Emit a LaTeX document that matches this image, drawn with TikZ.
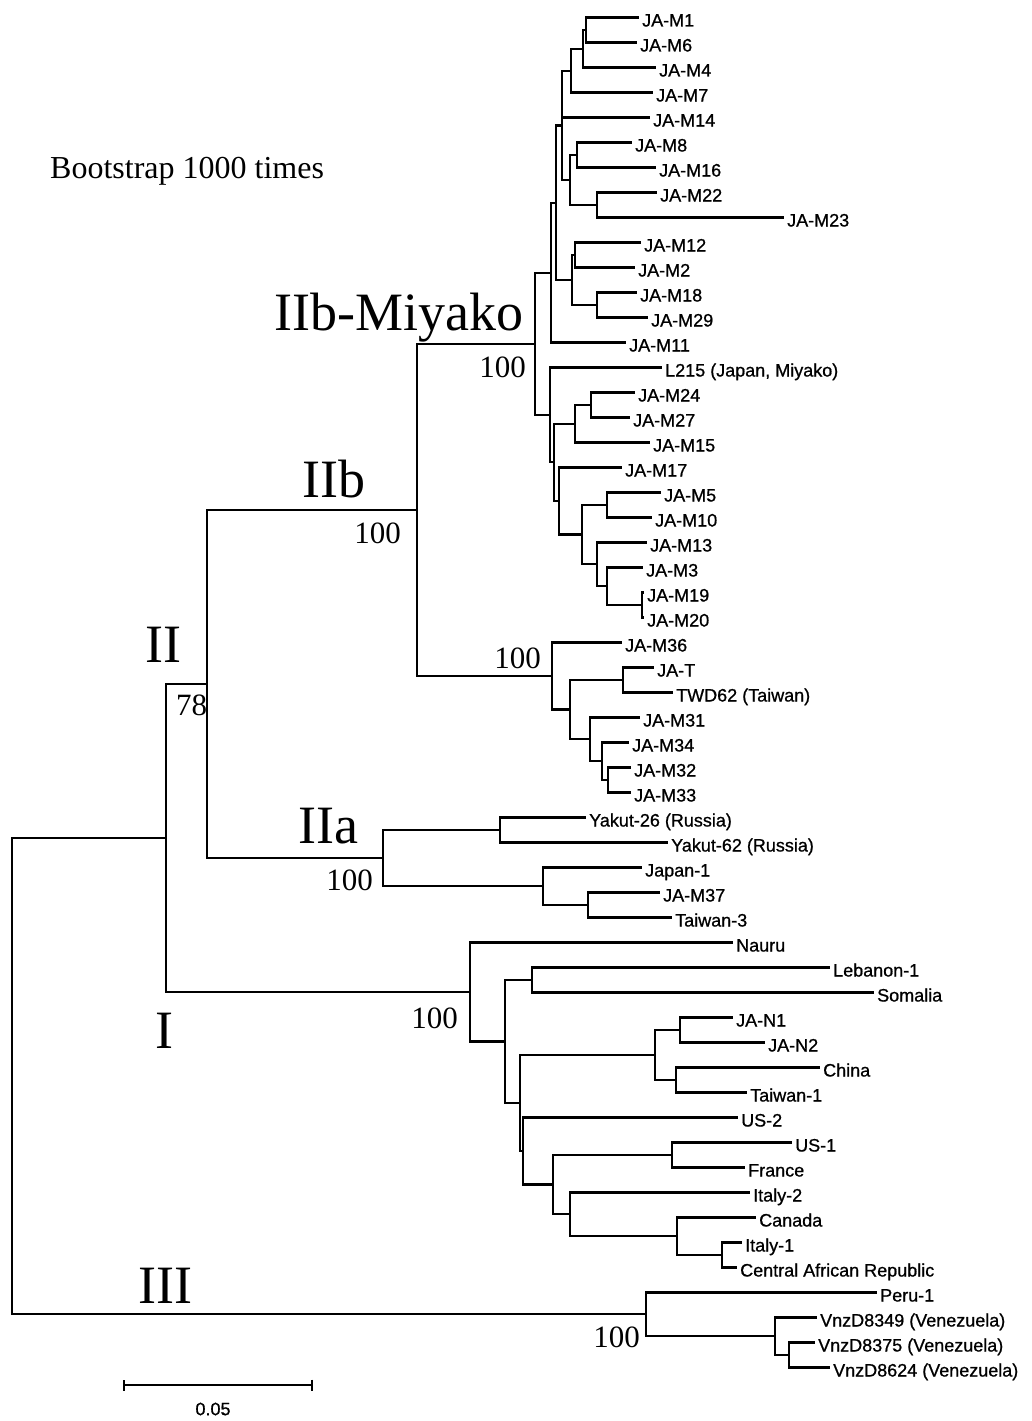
\documentclass[tikz,border=0pt]{standalone}
\usepackage{fontspec}
\setmainfont{Liberation Serif}
\newfontfamily\leafsans[FakeBold=0.8]{Liberation Sans}
\usetikzlibrary{arrows.meta}

\begin{document}
\begin{tikzpicture}[x=1pt, y=-1pt,
  branch/.style={line width=2.4pt},
  leaf/.style={anchor=west, inner xsep=3pt, inner ysep=0pt,
               text height=20pt, text depth=2pt,
               font=\leafsans\fontsize{18}{20}\selectfont},
  boot/.style={anchor=base east, inner sep=0pt, font=\fontsize{31}{34}\selectfont},
  clade/.style={anchor=base west, inner sep=0pt, font=\fontsize{54}{60}\selectfont}]

\fill[white] (0,0) rectangle (1031,1421);
\useasboundingbox (0,0) rectangle (1031,1421);

% Internal nodes of the tree
\coordinate (root) at (12,1076);
\coordinate (base) at (166,838);
\coordinate (cII)  at (207,684);
\coordinate (cIIb) at (417,510);
\coordinate (miy)  at (535,344);
\coordinate (up3)  at (551,273);
\coordinate (up2)  at (556,203);
\coordinate (up1)  at (562,125.5);
\coordinate (a1)   at (571,71);
\coordinate (a2)   at (583,49);
\coordinate (a3)   at (586,30);
\coordinate (b1)   at (570,180);
\coordinate (b2)   at (577,155);
\coordinate (b3)   at (597,205);
\coordinate (c1)   at (572,280);
\coordinate (c2)   at (575,255);
\coordinate (c3)   at (597,305);
\coordinate (lo1)  at (550,415);
\coordinate (lo2)  at (554,462);
\coordinate (p1)   at (575,424);
\coordinate (p2)   at (591,405);
\coordinate (n1)   at (559,501);
\coordinate (n2)   at (582,534.5);
\coordinate (n3)   at (607,505);
\coordinate (n4)   at (597,564);
\coordinate (n5)   at (607,586);
\coordinate (n6)   at (642,605);
\coordinate (t36)  at (552,676);
\coordinate (t1)   at (570,709.5);
\coordinate (t2)   at (623,680);
\coordinate (t3)   at (590,739);
\coordinate (t4)   at (602,761);
\coordinate (t5)   at (608,780);
\coordinate (cIIa) at (383,858);
\coordinate (y1)   at (500,830);
\coordinate (j1)   at (543,886);
\coordinate (j2)   at (588,905);
\coordinate (cI)   at (470,992);
\coordinate (i1)   at (505,1041.5);
\coordinate (i2)   at (532,980);
\coordinate (i3)   at (520,1103);
\coordinate (i4)   at (655,1055);
\coordinate (i5)   at (523,1151);
\coordinate (i6)   at (680,1030);
\coordinate (i7)   at (676,1080);
\coordinate (i8)   at (553,1184.5);
\coordinate (i9)   at (672,1155);
\coordinate (i10)  at (570,1214);
\coordinate (i11)  at (677,1236);
\coordinate (i12)  at (722,1255);
\coordinate (cIII) at (646,1314);
\coordinate (v1)   at (775,1336);
\coordinate (v2)   at (789,1355);

% Leaves
\node[leaf] (jam1)  at (639,17.5)  {JA-M1};
\node[leaf] (jam6)  at (637,42.5)  {JA-M6};
\node[leaf] (jam4)  at (656,67.5)  {JA-M4};
\node[leaf] (jam7)  at (653,92.5)  {JA-M7};
\node[leaf] (jam14) at (650,117.5) {JA-M14};
\node[leaf] (jam8)  at (632,142.5) {JA-M8};
\node[leaf] (jam16) at (656,167.5) {JA-M16};
\node[leaf] (jam22) at (657,192.5) {JA-M22};
\node[leaf] (jam23) at (784,217.5) {JA-M23};
\node[leaf] (jam12) at (641,242.5) {JA-M12};
\node[leaf] (jam2)  at (635,267.5) {JA-M2};
\node[leaf] (jam18) at (637,292.5) {JA-M18};
\node[leaf] (jam29) at (648,317.5) {JA-M29};
\node[leaf] (jam11) at (626,342.5) {JA-M11};
\node[leaf] (l215)  at (662,367.5) {L215 (Japan, Miyako)};
\node[leaf] (jam24) at (635,392.5) {JA-M24};
\node[leaf] (jam27) at (630,417.5) {JA-M27};
\node[leaf] (jam15) at (650,442.5) {JA-M15};
\node[leaf] (jam17) at (622,467.5) {JA-M17};
\node[leaf] (jam5)  at (661,492.5) {JA-M5};
\node[leaf] (jam10) at (652,517.5) {JA-M10};
\node[leaf] (jam13) at (647,542.5) {JA-M13};
\node[leaf] (jam3)  at (643,567.5) {JA-M3};
\node[leaf] (jam19) at (644,592.5) {JA-M19};
\node[leaf] (jam20) at (644,617.5) {JA-M20};
\node[leaf] (jam36) at (622,642.5) {JA-M36};
\node[leaf] (jat)   at (654,667.5) {JA-T};
\node[leaf] (twd62) at (673,692.5) {TWD62 (Taiwan)};
\node[leaf] (jam31) at (640,717.5) {JA-M31};
\node[leaf] (jam34) at (629,742.5) {JA-M34};
\node[leaf] (jam32) at (631,767.5) {JA-M32};
\node[leaf] (jam33) at (631,792.5) {JA-M33};
\node[leaf] (yak26) at (586,817.5) {Yakut-26 (Russia)};
\node[leaf] (yak62) at (668,842.5) {Yakut-62 (Russia)};
\node[leaf] (japan1) at (642,867.5) {Japan-1};
\node[leaf] (jam37) at (660,892.5) {JA-M37};
\node[leaf] (taiwan3) at (672,917.5) {Taiwan-3};
\node[leaf] (nauru) at (733,942.5) {Nauru};
\node[leaf] (lebanon) at (830,967.5) {Lebanon-1};
\node[leaf] (somalia) at (874,992.5) {Somalia};
\node[leaf] (jan1)  at (733,1017.5) {JA-N1};
\node[leaf] (jan2)  at (765,1042.5) {JA-N2};
\node[leaf] (china) at (820,1067.5) {China};
\node[leaf] (taiwan1) at (747,1092.5) {Taiwan-1};
\node[leaf] (us2)   at (738,1117.5) {US-2};
\node[leaf] (us1)   at (792,1142.5) {US-1};
\node[leaf] (france) at (745,1167.5) {France};
\node[leaf] (italy2) at (750,1192.5) {Italy-2};
\node[leaf] (canada) at (756,1217.5) {Canada};
\node[leaf] (italy1) at (742,1242.5) {Italy-1};
\node[leaf] (car)   at (737,1267.5) {Central African Republic};
\node[leaf] (peru)  at (877,1292.5) {Peru-1};
\node[leaf] (vnz49) at (817,1317.5) {VnzD8349 (Venezuela)};
\node[leaf] (vnz75) at (815,1342.5) {VnzD8375 (Venezuela)};
\node[leaf] (vnz24) at (830,1367.5) {VnzD8624 (Venezuela)};

% Branches
\foreach \a/\b in {root/base, root/cIII, base/cII, base/cI, cII/cIIb, cII/cIIa,
    cIIb/miy, cIIb/t36, miy/up3, miy/lo1, up3/up2, up3/jam11, up2/up1, up2/c1,
    up1/a1, up1/jam14, up1/b1, a1/a2, a1/jam7, a2/a3, a2/jam4, a3/jam1, a3/jam6,
    b1/b2, b1/b3, b2/jam8, b2/jam16, b3/jam22, b3/jam23,
    c1/c2, c1/c3, c2/jam12, c2/jam2, c3/jam18, c3/jam29,
    lo1/l215, lo1/lo2, lo2/p1, lo2/n1, p1/p2, p1/jam15, p2/jam24, p2/jam27,
    n1/jam17, n1/n2, n2/n3, n2/n4, n3/jam5, n3/jam10, n4/jam13, n4/n5,
    n5/jam3, n5/n6, n6/jam19, n6/jam20,
    t36/jam36, t36/t1, t1/t2, t1/t3, t2/jat, t2/twd62, t3/jam31, t3/t4,
    t4/jam34, t4/t5, t5/jam32, t5/jam33,
    cIIa/y1, cIIa/j1, y1/yak26, y1/yak62, j1/japan1, j1/j2, j2/jam37, j2/taiwan3,
    cI/nauru, cI/i1, i1/i2, i1/i3, i2/lebanon, i2/somalia, i3/i4, i3/i5,
    i4/i6, i4/i7, i6/jan1, i6/jan2, i7/china, i7/taiwan1,
    i5/us2, i5/i8, i8/i9, i8/i10, i9/us1, i9/france, i10/italy2, i10/i11,
    i11/canada, i11/i12, i12/italy1, i12/car,
    cIII/peru, cIII/v1, v1/vnz49, v1/v2, v2/vnz75, v2/vnz24}
  \draw[branch] (\a) |- (\b);

% Clade names and bootstrap values
\node[anchor=base west, inner sep=0pt, font=\fontsize{32}{36}\selectfont] (title) at (50,178) {Bootstrap 1000 times};
\node[clade, anchor=base east] (lIIbM) at (524,330) {IIb-Miyako};
\node[boot] (bMiy) at (526,377) {100};
\node[clade] (lIIb) at (302,497) {IIb};
\node[boot] (bIIb) at (401,543) {100};
\node[clade] (lII) at (145,662) {II};
\node[boot, anchor=base west] (b78) at (176,715) {78};
\node[clade] (lIIa) at (298,843) {IIa};
\node[boot] (bIIa) at (373,890) {100};
\node[boot] (b36) at (541,668) {100};
\node[clade] (lI) at (155,1048) {I};
\node[boot] (bI) at (458,1028) {100};
\node[clade] (lIII) at (138,1303) {III};
\node[boot] (bIII) at (640,1347) {100};

% Scale bar
\coordinate (sbl) at (123,1385);
\coordinate (sbr) at (313,1385);
\draw[line width=1.8pt, {Bar[width=11pt]}-{Bar[width=11pt]}] (sbl) -- (sbr);
\node[font=\leafsans\fontsize{18}{20}\selectfont] (sblab) at (213,1409) {0.05};

\end{tikzpicture}
\end{document}
